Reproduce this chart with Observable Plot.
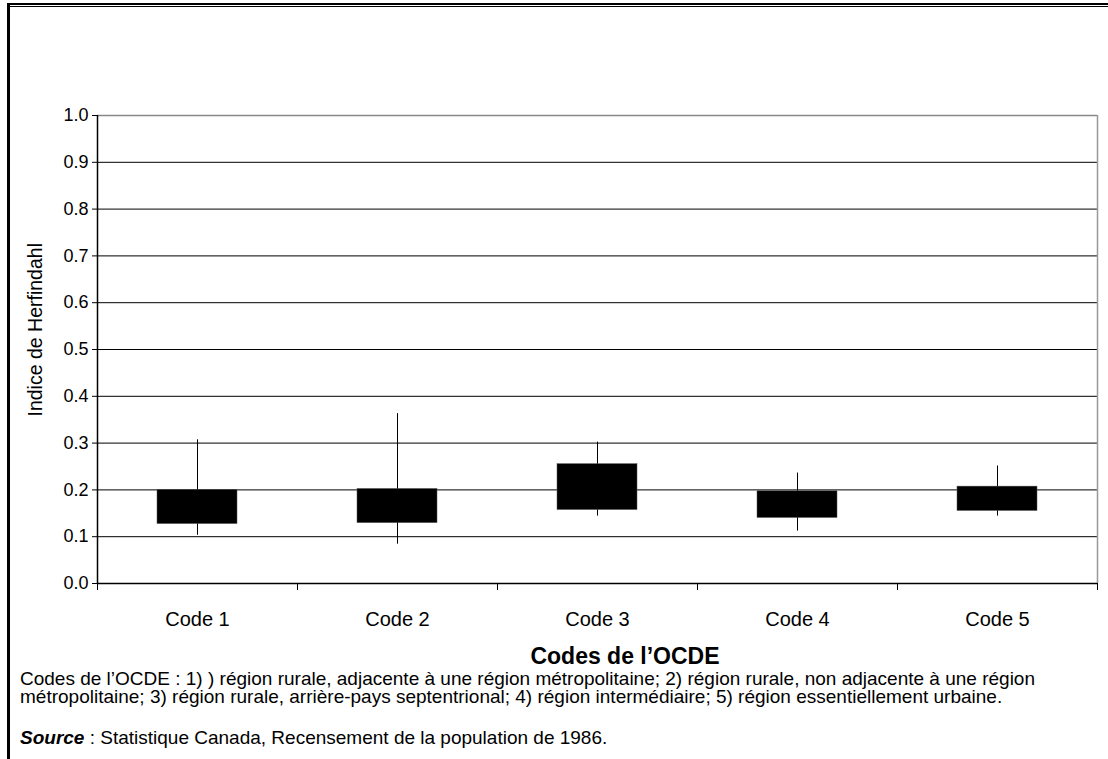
<!DOCTYPE html>
<html lang="fr">
<head>
<meta charset="utf-8">
<script src="https://cdn.jsdelivr.net/npm/d3@7"></script>
<script src="https://cdn.jsdelivr.net/npm/@observablehq/plot@0.6"></script>
<style>
  html, body { margin: 0; padding: 0; background: #fff; }
  #page { position: relative; width: 1108px; height: 759px; overflow: hidden; font-family: "Liberation Sans", Arial, sans-serif; color: #000; }
  #chart { position: absolute; left: 0; top: 0; }
  .rule-top-thick { position: absolute; left: 7px; top: 3px; right: 0; height: 2px; background: #000; }
  .rule-top-thin { position: absolute; left: 10px; top: 6px; right: 0; height: 1px; background: #000; }
  .rule-left { position: absolute; left: 7px; top: 3px; bottom: 0; width: 3px; background: #000; }
  #ylabel { position: absolute; left: -113.7px; top: 320.25px; width: 300px; height: 19.5px; line-height: 19.5px; font-size: 19.5px; text-align: center; transform: rotate(-90deg); white-space: nowrap; }
  #xtitle { position: absolute; top: 642px; left: 425px; width: 400px; text-align: center; font-weight: bold; font-size: 23px; line-height: 28px; }
  #notes { position: absolute; left: 20px; top: 670px; width: 1050px; font-size: 19px; line-height: 18px; }
  #source { position: absolute; left: 20px; top: 727px; font-size: 19px; line-height: 22px; width: 1000px; }
</style>
</head>
<body>
<div id="page">
  <div id="chart"></div>
  <div class="rule-top-thick"></div>
  <div class="rule-top-thin"></div>
  <div class="rule-left"></div>
  <div id="ylabel">Indice de Herfindahl</div>
  <div id="xtitle">Codes de l’OCDE</div>
  <div id="notes">Codes de l’OCDE : 1) ) région rurale, adjacente à une région métropolitaine; 2) région rurale, non adjacente à une région métropolitaine; 3) région rurale, arrière-pays septentrional; 4) région intermédiaire; 5) région essentiellement urbaine.</div>
  <div id="source"><b><i>Source</i></b> : Statistique Canada, Recensement de la population de 1986.</div>
</div>
<script>
// OECD region codes and Herfindahl index spread per code
const codes = ["Code 1", "Code 2", "Code 3", "Code 4", "Code 5"];
const low   = [0.103, 0.084, 0.144, 0.112, 0.144];   // whisker bottom
const q1    = [0.127, 0.129, 0.157, 0.140, 0.155];   // box bottom
const q3    = [0.200, 0.202, 0.255, 0.197, 0.207];   // box top
const high  = [0.307, 0.363, 0.302, 0.236, 0.251];   // whisker top
const yTicks = [0, 0.1, 0.2, 0.3, 0.4, 0.5, 0.6, 0.7, 0.8, 0.9, 1.0];

const rows = codes.map((c, i) => ({code: c, i, low: low[i], q1: q1[i], q3: q3[i], high: high[i]}));
const centers = codes.map((c, i) => i + 0.5);
const bounds = d3.range(codes.length + 1);

const chart = Plot.plot({
  width: 1108,
  height: 640,
  marginLeft: 97,
  marginRight: 11,
  marginTop: 115,
  marginBottom: 57,
  style: {fontFamily: "'Liberation Sans', Arial, sans-serif", fontSize: "18px", color: "#000", background: "transparent"},
  x: {domain: [0, codes.length]},
  y: {domain: [0, 1]},
  marks: [
    // horizontal gridlines
    Plot.ruleY(yTicks.filter(v => v > 0 && v < 1), {stroke: "#000", strokeWidth: 1}),
    // plot area border (top and right)
    Plot.ruleY([1], {stroke: "#888", strokeWidth: 1.5}),
    Plot.ruleX([codes.length], {y1: 0, y2: 1, stroke: "#999", strokeWidth: 1.5}),
    // whiskers
    Plot.ruleX(rows, {x: d => d.i + 0.5, y1: "low", y2: "high", stroke: "#000", strokeWidth: 1}),
    // boxes
    Plot.rectY(rows, {x1: d => d.i + 0.3, x2: d => d.i + 0.7, y1: "q1", y2: "q3", fill: "#000", stroke: "#555", strokeWidth: 0.5}),
    // axes
    Plot.axisY({ticks: yTicks, tickFormat: d3.format(".1f"), tickSize: 5, tickPadding: 4, label: null, fontSize: 18}),
    Plot.ruleX([0], {y1: 0, y2: 1, stroke: "#000", strokeWidth: 1.5}),
    Plot.axisX({ticks: bounds, tickFormat: () => "", tickSize: 7, label: null}),
    Plot.axisX({ticks: centers, tickFormat: (d) => codes[Math.floor(d)], tickSize: 0, tickPadding: 28, label: null, fontSize: 20}),
    Plot.ruleY([0], {stroke: "#000", strokeWidth: 1.5})
  ]
});
document.getElementById("chart").appendChild(chart);
</script>
</body>
</html>
